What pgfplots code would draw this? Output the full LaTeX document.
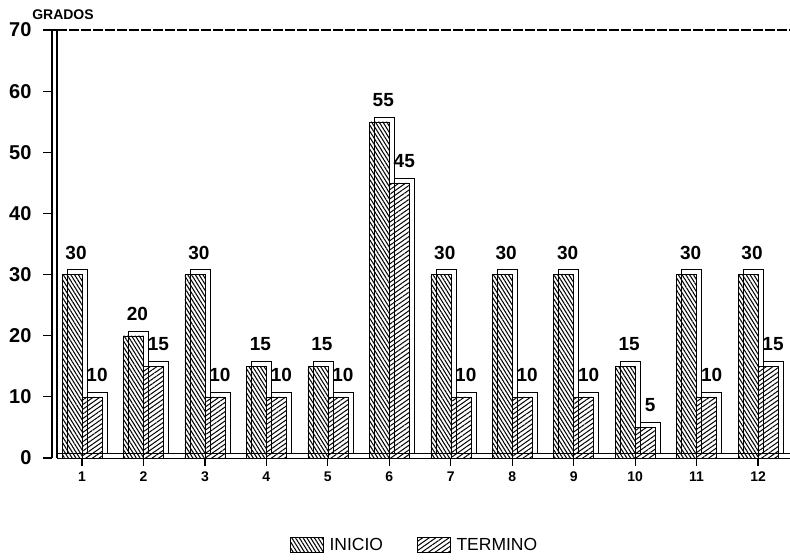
\documentclass[border=0pt]{standalone}
\usepackage{fontspec}
\setmainfont{Liberation Sans}
\usepackage{pgfplots}
\pgfplotsset{compat=1.18}
\usepackage{pgfplotstable}
\usetikzlibrary{patterns.meta}

\pgfplotsset{my legend/.style={legend image code/.code={\draw[##1, bar shift=0pt] (0pt,-7.5pt) rectangle (33pt,7.5pt);}}}

\pgfplotstableread{
x ini ter
1 30 10
2 20 15
3 30 10
4 15 10
5 15 10
6 55 45
7 30 10
8 30 10
9 30 10
10 15 5
11 30 10
12 30 15
}\data

\begin{document}
\begin{tikzpicture}[line width=1.2pt]
\begin{axis}[
  scale only axis,
  width=733pt, height=428pt,
  xmin=0.593, xmax=12.52,
  ymin=0, ymax=70,
  ybar,
  axis x line*=bottom, axis y line*=left,
  axis line style={line width=1.2pt},
  xtick={1,...,12},
  ytick={0,10,...,70},
  tick align=outside,
  x tick style={line width=1.2pt, black},
  y tick style={draw=none},
  major tick length=8pt,
  /pgf/number format/assume math mode=true,
  yticklabel style={font=\fontsize{20}{22}\selectfont\bfseries, xshift=-14pt},
  xticklabel style={font=\fontsize{14}{16}\selectfont\bfseries, yshift=-2pt},
  clip=false,
  legend columns=2,
  legend style={at={(rel axis cs:0.488,-0.203)}, anchor=center, draw=none, fill=none,
    font=\fontsize{17.5}{19}\selectfont,
    /tikz/every odd column/.append style={column sep=4pt},
    /tikz/every even column/.append style={column sep=32pt}},
  nodes near coords style={font=\fontsize{19}{21}\selectfont\bfseries},
]
% floor
\fill[white, draw=black] (rel axis cs:0,0) rectangle ([yshift=5pt]rel axis cs:1,0);
% back boxes (3D depth)
\addplot[forget plot, draw=black, fill=white, bar width=20pt, bar shift=-5pt, yshift=5pt]
  table[x=x, y=ini] {\data};
\addplot[forget plot, draw=black, fill=white, bar width=20pt, bar shift=15pt, yshift=5pt]
  table[x=x, y=ter] {\data};
% front faces
\addplot[draw=black, bar width=20pt, bar shift=-10pt,
  pattern={Lines[angle=-58, distance=3.2pt, line width=1.05pt]},
  nodes near coords, nodes near coords align={center},
  every node near coord/.append style={anchor=center, yshift=22pt, xshift=4pt},
  my legend]
  table[x=x, y=ini] {\data};
\addlegendentry{INICIO}
\addplot[draw=black, bar width=20pt, bar shift=10pt,
  pattern={Lines[angle=35, distance=3.8pt, line width=1.0pt]},
  nodes near coords, nodes near coords align={center},
  every node near coord/.append style={anchor=center, yshift=22pt, xshift=5pt},
  my legend]
  table[x=x, y=ter] {\data};
\addlegendentry{TERMINO}
% y ticks drawn left of the wall
\pgfplotsinvokeforeach{0,10,...,70}{
  \draw[line width=1.2pt] ([xshift=-5pt]axis cs:0.593,#1) -- ([xshift=-14pt]axis cs:0.593,#1);
}
% top dashed line and wall
\draw[line width=1.2pt, dash pattern=on 10pt off 2pt] (rel axis cs:0,1) -- (rel axis cs:1,1);
\draw[line width=1.2pt] ([xshift=-5pt]rel axis cs:0,0) -- ([xshift=-5pt]rel axis cs:0,1) -- (rel axis cs:0,1);
\node[font=\fontsize{14}{16}\selectfont\bfseries] at ([xshift=6pt, yshift=15pt]rel axis cs:0,1) {GRADOS};
\coordinate (bl) at (rel axis cs:0,0);
\coordinate (tr) at (rel axis cs:1,1);
\end{axis}
\pgfresetboundingbox
\path ([shift={(-57pt,-102pt)}]bl) rectangle ([shift={(0pt,30pt)}]tr);
\end{tikzpicture}
\end{document}
